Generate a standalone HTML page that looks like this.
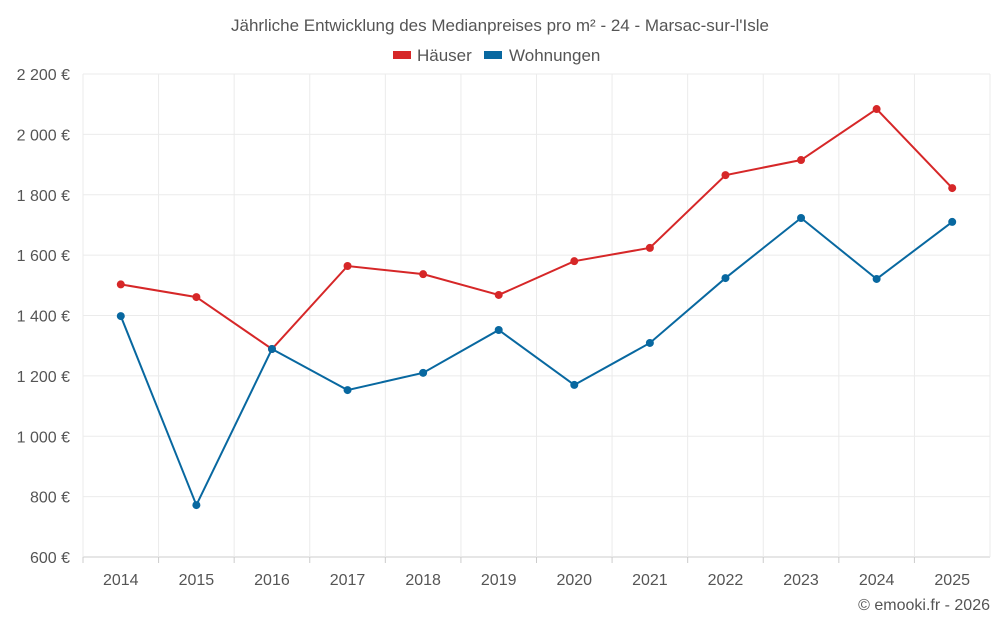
<!DOCTYPE html>
<html><head><meta charset="utf-8"><style>
body{margin:0;background:#fff;}
svg text{font-family:"Liberation Sans",sans-serif;}
</style></head><body>
<svg id="chart" width="1000" height="625" xmlns="http://www.w3.org/2000/svg">
<text x="500" y="31" text-anchor="middle" font-size="17" fill="#555">Jährliche Entwicklung des Medianpreises pro m² - 24 - Marsac-sur-l'Isle</text>
<g>
<g><rect x="393" y="51" width="18" height="8" fill="#d62728"/><text x="417" y="61" font-size="17" fill="#555">Häuser</text></g>
<g><rect x="484" y="51" width="18" height="8" fill="#0868a0"/><text x="509" y="61" font-size="17" fill="#555">Wohnungen</text></g>
</g>
<g id="grid"></g>
<g id="axes"></g>
<g id="series"></g>
<text x="990" y="610" text-anchor="end" font-size="16" fill="#555">© emooki.fr - 2026</text>
</svg>
<script>
const years=[2014,2015,2016,2017,2018,2019,2020,2021,2022,2023,2024,2025];
const haeuser=[1503,1461,1289,1564,1537,1468,1580,1624,1865,1915,2084,1822];
const wohnungen=[1398,772,1289,1153,1210,1352,1170,1309,1524,1723,1521,1710];
const yTicks=[600,800,1000,1200,1400,1600,1800,2000,2200];
const yTickLabels=["600 €","800 €","1 000 €","1 200 €","1 400 €","1 600 €","1 800 €","2 000 €","2 200 €"];
const L=83,R=990,T=74,B=557,ymin=600,ymax=2200;
const bw=(R-L)/years.length;
const xs=i=>L+bw*(i+0.5);
const ys=v=>B-(v-ymin)/(ymax-ymin)*(B-T);
const NS="http://www.w3.org/2000/svg";
function mk(tag,attrs,parent){const e=document.createElementNS(NS,tag);for(const k in attrs)e.setAttribute(k,attrs[k]);parent.appendChild(e);return e;}
const grid=document.getElementById('grid'),axes=document.getElementById('axes'),series=document.getElementById('series');
yTicks.forEach((t,i)=>{
 const l=mk('line',{x1:L,x2:R,y1:ys(t),y2:ys(t),stroke:i===0?'#ccc':'#ebebeb','stroke-width':1},grid);
 
 
 const tx=mk('text',{x:70,y:ys(t)+6,'text-anchor':'end','font-size':16,fill:'#555'},axes);
 tx.textContent=yTickLabels[i];
 
 
});
for(let i=0;i<=years.length;i++){
 const x=L+bw*i;
 const l=mk('line',{x1:x,x2:x,y1:T,y2:B,stroke:'#ebebeb','stroke-width':1},grid);
 
 
}
years.forEach((y,i)=>{
 const tk=mk('line',{x1:L+bw*i,x2:L+bw*i,y1:B,y2:B+6,stroke:'#ccc'},axes);
 
 
 const tx=mk('text',{x:xs(i),y:585,'text-anchor':'middle','font-size':16,fill:'#555'},axes);
 tx.textContent=y;
 
 
});
function draw(vals,color,name){
 const p=mk('polyline',{points:vals.map((v,i)=>xs(i)+','+ys(v)).join(' '),fill:'none',stroke:color,'stroke-width':2},series);
 
 
 vals.forEach((v,i)=>{
  const c=mk('circle',{cx:xs(i),cy:ys(v),r:4,fill:color},series);
  
  
 });
}
draw(haeuser,'#d62728','haeuser');
draw(wohnungen,'#0868a0','wohnungen');
</script>
</body></html>
